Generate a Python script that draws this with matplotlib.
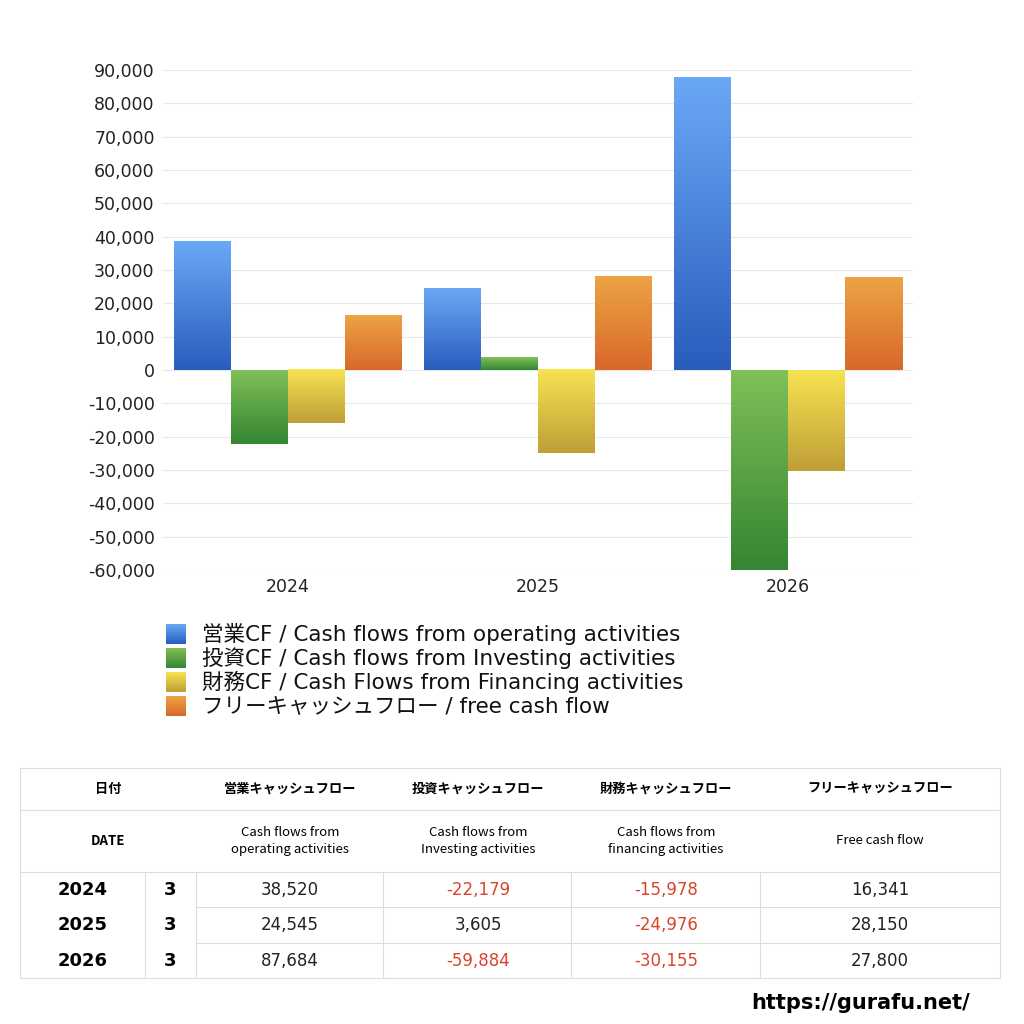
import matplotlib
matplotlib.use("Agg")
import matplotlib.pyplot as plt
import numpy as np
from matplotlib.colors import LinearSegmentedColormap

plt.rcParams['font.family'] = ['Noto Sans CJK JP', 'DejaVu Sans']
LAT = ['DejaVu Sans', 'Noto Sans CJK JP']

years = ["2024", "2025", "2026"]
months = ["3", "3", "3"]
operating = [38520, 24545, 87684]
investing = [-22179, 3605, -59884]
financing = [-15978, -24976, -30155]
free_cf = [16341, 28150, 27800]
series = [operating, investing, financing, free_cf]
labels = ["営業CF / Cash flows from operating activities",
          "投資CF / Cash flows from Investing activities",
          "財務CF / Cash Flows from Financing activities",
          "フリーキャッシュフロー / free cash flow"]
grads = [("#6aa9f6", "#2a5cbe"), ("#80c058", "#358532"),
         ("#f7e352", "#bf9e36"), ("#eca444", "#d8682a")]
col_heads_jp = ["営業キャッシュフロー", "投資キャッシュフロー", "財務キャッシュフロー", "フリーキャッシュフロー"]
col_heads_en = ["Cash flows from\noperating activities", "Cash flows from\nInvesting activities",
                "Cash flows from\nfinancing activities", "Free cash flow"]

fig = plt.figure(figsize=(10.24, 10.24), dpi=100)
W = H = 1024.0
ax = fig.add_axes([163/W, 1-570/H, 750/W, 500/H])
ax.set_yticks(np.arange(-60000, 90001, 10000))
ax.set_yticklabels([f"{v:,}" for v in range(-60000, 90001, 10000)], fontsize=12.5, color="#222", family=LAT)
ax.set_xticks(range(3))
ax.set_xticklabels(years, fontsize=12.5, color="#222", family=LAT)
ax.grid(axis='y', color="#e8e8e8", lw=0.8)
ax.set_axisbelow(True)
for s in ax.spines.values():
    s.set_visible(False)
ax.tick_params(length=0, pad=6)

bw = 0.228
grad = np.linspace(0, 1, 256).reshape(-1, 1)
for i, (vals, (c1, c2)) in enumerate(zip(series, grads)):
    cmap = LinearSegmentedColormap.from_list("g%d" % i, [c1, c2])
    for j, v in enumerate(vals):
        x0 = j - 2*bw + i*bw
        top, bot = max(v, 0), min(v, 0)
        ax.imshow(grad, cmap=cmap, aspect='auto', extent=[x0, x0+bw, bot, top],
                  origin='upper', zorder=2)
ax.set_xlim(-0.5, 2.5)
ax.set_ylim(-60000, 90000)

for k, (lab, (c1, c2)) in enumerate(zip(labels, grads)):
    yc = 634 + 24*k
    lax = fig.add_axes([166/W, 1-(yc+10)/H, 20/W, 20/H])
    lax.imshow(grad, cmap=LinearSegmentedColormap.from_list("l%d" % k, [c1, c2]), aspect='auto')
    lax.axis('off')
    fig.text(202/W, 1-yc/H, lab, fontsize=15.5, va='center', ha='left', color="#111", family=LAT)

def hline(y, x0=20, x1=1000):
    fig.add_artist(plt.Line2D([x0/W, x1/W], [1-y/H, 1-y/H], color="#dddddd", lw=0.8))
def vline(x, y0, y1):
    fig.add_artist(plt.Line2D([x/W, x/W], [1-y0/H, 1-y1/H], color="#dddddd", lw=0.8))

for y in [768, 810, 872, 978]:
    hline(y)
hline(907, 196); hline(943, 196)
vline(20, 768, 978); vline(1000, 768, 978)
vline(145, 872, 978); vline(196, 872, 978)
for x in [383, 571, 760]:
    vline(x, 872, 978)

colx = [290, 478, 666, 880]
fig.text(108/W, 1-789/H, "日付", fontsize=9.5, weight='bold', ha='center', va='center')
fig.text(108/W, 1-841/H, "DATE", fontsize=9.5, weight='bold', ha='center', va='center')
for cx, jp, en in zip(colx, col_heads_jp, col_heads_en):
    fig.text(cx/W, 1-789/H, jp, fontsize=9.5, weight='bold', ha='center', va='center')
    fig.text(cx/W, 1-841/H, en, fontsize=9.5, ha='center', va='center', linespacing=1.5)

rows_y = [890, 925, 961]
for r, yy in enumerate(rows_y):
    fig.text(83/W, 1-yy/H, years[r], fontsize=13, weight='bold', ha='center', va='center', family=LAT)
    fig.text(170/W, 1-yy/H, months[r], fontsize=13, weight='bold', ha='center', va='center', family=LAT)
    for cx, vals in zip(colx, series):
        v = vals[r]
        fig.text(cx/W, 1-yy/H, f"{v:,}", fontsize=12, ha='center', va='center',
                 color="#d9442b" if v < 0 else "#222", family=LAT)

fig.text(970/W, 1-1003/H, "https://gurafu.net/", fontsize=15, weight='bold', ha='right', va='center', family=LAT)

fig.savefig("out.png", dpi=100, facecolor="white")
